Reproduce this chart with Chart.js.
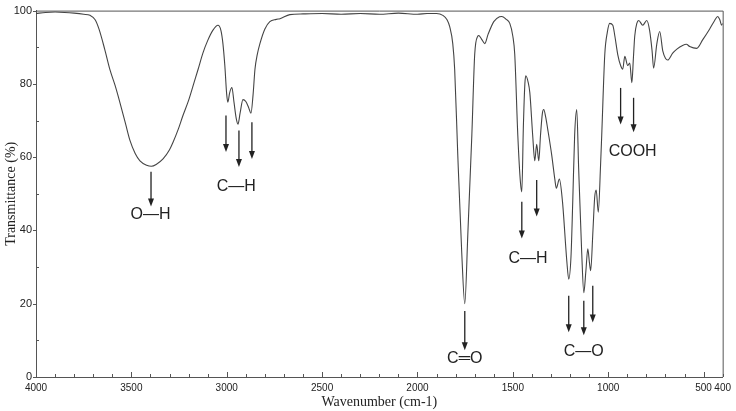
<!DOCTYPE html>
<html>
<head>
<meta charset="utf-8">
<script src="https://cdn.jsdelivr.net/npm/chart.js@4"></script>
<style>
html,body{margin:0;padding:0;background:#fff;}
#wrap{width:736px;height:411px;}
</style>
</head>
<body>
<div id="wrap"><canvas id="c"></canvas></div>
<script>
// ---- data ----
const wavenumbers = [4000,3950,3900,3850,3800,3750,3717,3690,3670,3640,3612,3585,3560,3530,3507,3480,3455,3420,3395,3370,3334,3300,3282,3255,3230,3200,3177,3150,3125,3100,3073,3046,3030,3020,3010,3000,2994,2985,2973,2962,2950,2941,2930,2915,2900,2885,2873,2862,2852,2840,2826,2800,2774,2740,2721,2669,2600,2500,2400,2300,2200,2100,2000,1950,1900,1867,1845,1831,1815,1805,1789,1768,1752,1736,1715,1700,1684,1679,1665,1647,1630,1600,1570,1558,1535,1516,1500,1490,1474,1460,1453,1445,1437,1432,1420,1411,1396,1385,1375,1364,1355,1345,1338,1328,1317,1296,1280,1272,1256,1240,1217,1207,1195,1186,1176,1165,1155,1139,1128,1117,1107,1098,1092,1080,1071,1063,1052,1040,1034,1018,1005,992,976,965,950,935,924,913,898,887,876,868,861,850,840,819,798,783,770,762,745,730,714,700,688,662,640,610,590,573,536,505,468,442,426,415,405,400];
const transmittance = [99.2,99.5,99.6,99.5,99.3,99.0,98.7,97.5,95.0,89.5,83.8,79.5,74.9,69,64.5,61,59,57.8,57.5,58,59.5,62,64,67.5,71.3,75.5,79.4,84,88.4,91.8,94.6,96,94.5,91,85,77,75,77.5,79,75,70.5,69,72,75.7,75.2,73.5,72,77,84,88,91,95,97,97.6,97.8,98.9,99.1,99.2,99.0,99.2,99.0,99.3,99.0,99.2,99.2,98.7,97.5,95.6,91,84,61,34,20,39,66,88,93,93.2,92.3,91,93.5,97,98.3,98.4,97.6,96.5,93,88,66,53,50.5,68,80,82.2,80.5,77.6,66,59,63.5,59,66,72,73,71,67.6,60.5,54,51.5,54,48,31.6,26.7,33,47.8,66,73,57,34,23,29,35,31,29,40,49,51,45,58,66,88,94,96.5,96,93,88,85,84,87.5,85,85.7,80.3,87,93,96.5,97.3,96,97.3,94.6,89,84.3,91,94.3,89,87,86.5,88.4,89.5,90.5,90.8,90.2,89.7,92,95,97.3,98.4,97.5,96,96.5];
const xTickLabels = [4000,3500,3000,2500,2000,1500,1000,500,400];
const yTickLabels = [0,20,40,60,80,100];

// annotation arrows: wavenumber, start T, end T
const arrowWn    = [3397, 3004, 2936, 2868, 1752, 1453, 1375, 1207, 1128, 1081, 935, 867];
const arrowFrom  = [56,   71.4, 67.3, 69.5, 18,   47.8, 53.8, 22.2, 20.8, 24.9, 78.9, 76.2];
const arrowTo    = [46.5, 61.4, 57.3, 59.5, 7.3,  37.8, 43.8, 12.2, 11.4, 14.9, 68.9, 66.8];
// group labels: text, wavenumber of centre, T of centre
const groupText = ['O\u2014H','C\u2014H','C\u2550O','C\u2014H','C\u2014O','COOH'];
const groupWn   = [3400, 2950, 1752, 1420, 1128, 872];
const groupT    = [44.3, 51.9, 5.1, 32.2, 6.8, 61.4];

const points = wavenumbers.map((w,i)=>({x:w,y:transmittance[i]}));

const decor = {
  id:'decor',
  afterDraw(chart){
    const ctx = chart.ctx, a = chart.chartArea;
    const xs = chart.scales.x, ys = chart.scales.y;
    ctx.save();
    ctx.strokeStyle = '#555';
    ctx.lineWidth = 1;
    // frame
    ctx.beginPath();
    ctx.moveTo(a.left, a.top+0.5); ctx.lineTo(a.right+0.5, a.top+0.5); ctx.lineTo(a.right+0.5, a.bottom);
    ctx.stroke();
    // x ticks (inward)
    ctx.beginPath();
    for(let v=4000; v>=400; v-=100){
      const px = Math.round(xs.getPixelForValue(v))+0.5;
      const len = (v%500===0)?5:3;
      ctx.moveTo(px, a.bottom); ctx.lineTo(px, a.bottom-len);
    }
    // y ticks
    for(let v=0; v<=100; v+=10){
      const py = Math.round(ys.getPixelForValue(v))+0.5;
      if(v%20===0){ ctx.moveTo(a.left, py); ctx.lineTo(a.left-3, py); }
      else { ctx.moveTo(a.left, py); ctx.lineTo(a.left+3, py); }
    }
    ctx.stroke();
    // arrows
    ctx.strokeStyle = '#222'; ctx.fillStyle = '#222'; ctx.lineWidth = 1.3;
    arrowWn.forEach((w,i)=>{
      const px = xs.getPixelForValue(w);
      const y0 = ys.getPixelForValue(arrowFrom[i]);
      const y1 = ys.getPixelForValue(arrowTo[i]);
      ctx.beginPath(); ctx.moveTo(px,y0); ctx.lineTo(px,y1-7); ctx.stroke();
      ctx.beginPath(); ctx.moveTo(px-3,y1-8); ctx.lineTo(px+3,y1-8); ctx.lineTo(px,y1); ctx.closePath(); ctx.fill();
    });
    // group labels
    ctx.font = '16px "Liberation Sans", Arial, sans-serif';
    ctx.textAlign = 'center'; ctx.textBaseline = 'middle';
    groupText.forEach((t,i)=>{
      ctx.fillText(t, xs.getPixelForValue(groupWn[i]), ys.getPixelForValue(groupT[i]));
    });
    ctx.restore();
  }
};

new Chart(document.getElementById('c'), {
  type:'line',
  data:{datasets:[{data:points, borderColor:'#444', borderWidth:1.1, pointRadius:0, fill:false, cubicInterpolationMode:'monotone'}]},
  options:{
    responsive:true, maintainAspectRatio:false, animation:false,
    layout:{padding:{top:7,right:13,left:0,bottom:0}},
    plugins:{legend:{display:false}, tooltip:{enabled:false}},
    scales:{
      x:{type:'linear', reverse:true, min:400, max:4000,
        afterBuildTicks(s){ s.ticks = xTickLabels.map(v=>({value:v})); },
        afterFit(s){ s.height = 34; },
        grid:{display:false, drawTicks:false},
        border:{display:true, color:'#555', width:1},
        ticks:{autoSkip:false, maxRotation:0, padding:5, color:'#222', callback:(v)=>String(v), font:{family:'"Liberation Sans", Arial, sans-serif', size:10}},
        title:{display:true, text:'Wavenumber (cm-1)', color:'#222', padding:0, font:{family:'"Liberation Serif", "Times New Roman", serif', size:14}}
      },
      y:{min:0, max:100,
        afterBuildTicks(s){ s.ticks = yTickLabels.map(v=>({value:v})); },
        afterFit(s){ s.width = 36; },
        grid:{display:false, drawTicks:false},
        border:{display:true, color:'#555', width:1},
        ticks:{padding:4, color:'#222', callback:(v)=>String(v), font:{family:'"Liberation Sans", Arial, sans-serif', size:11}},
        title:{display:true, text:'Transmittance (%)', color:'#222', padding:3, font:{family:'"Liberation Serif", "Times New Roman", serif', size:14}}
      }
    }
  },
  plugins:[decor]
});
</script>
</body>
</html>
